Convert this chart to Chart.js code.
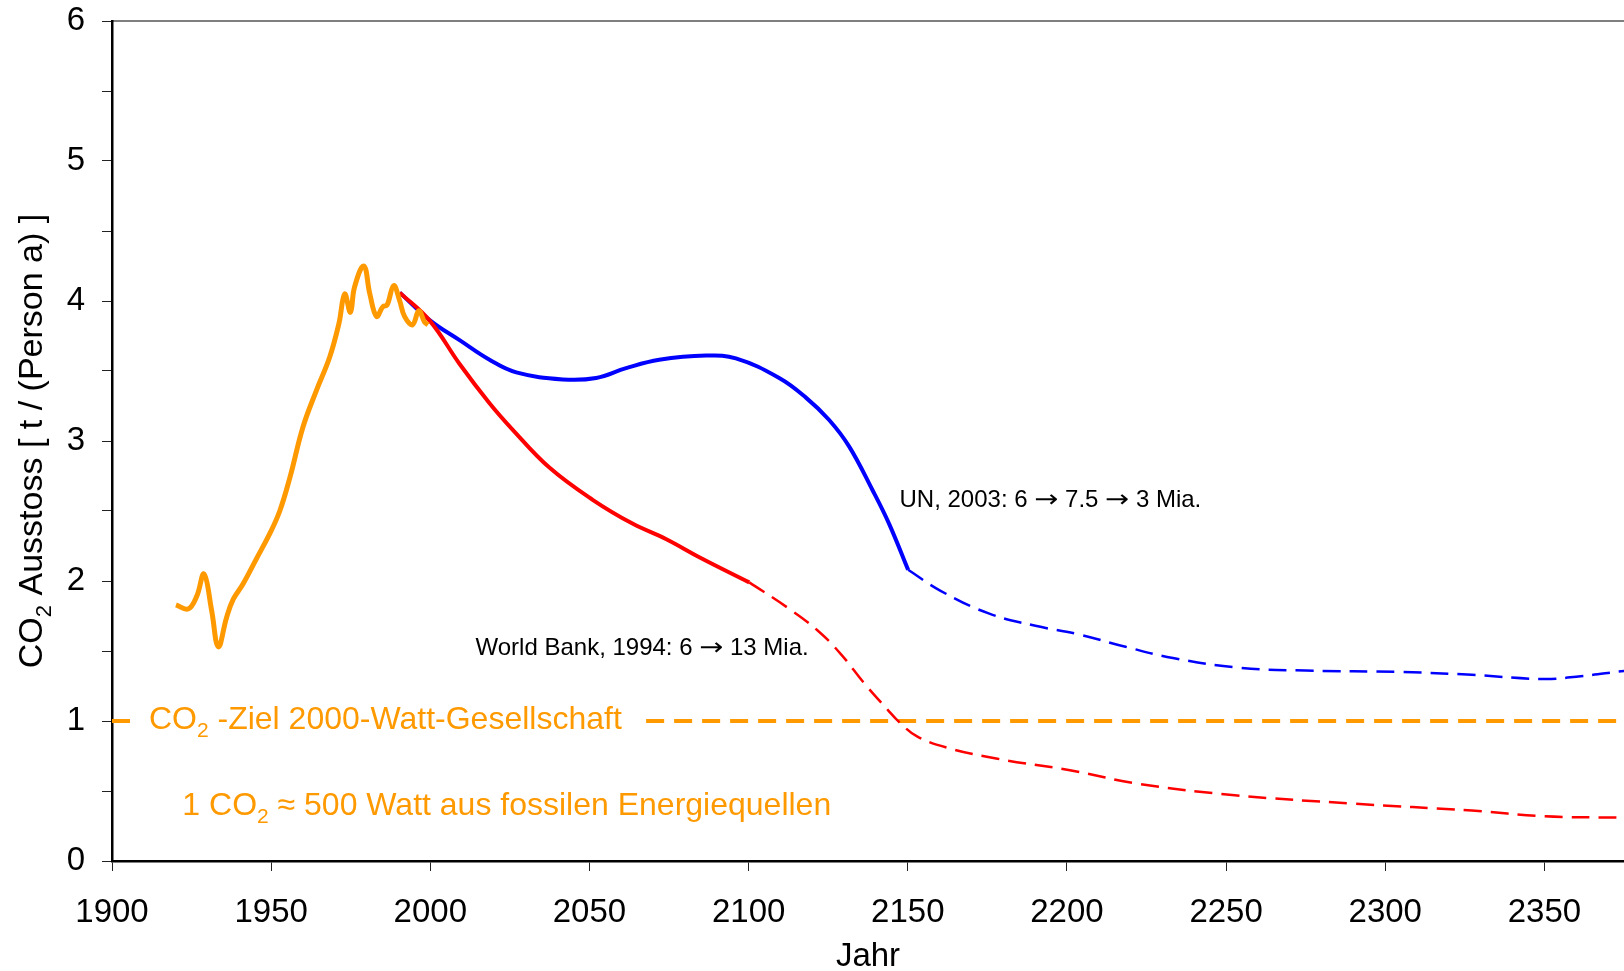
<!DOCTYPE html>
<html lang="de">
<head>
    <meta charset="UTF-8">
    <title>CO2 Ausstoss pro Person</title>
    <script src="https://cdn.jsdelivr.net/npm/chart.js"></script>
    <style>
        body { margin: 0; background: #fff; }
        #wrap { width: 1624px; height: 971px; position: relative; }
    </style>
</head>
<body>
    <div id="wrap"><canvas id="myChart"></canvas></div>

    <script>
        // historischer Verlauf (orange)
        const histYears = [1920.1, 1923.9, 1926.6, 1928.9, 1931.3, 1933.4, 1936.0, 1938.1, 1941.2, 1945.4,
            1949.6, 1952.7, 1955.9, 1960.0, 1964.2, 1968.4, 1971.3, 1973.1, 1974.9, 1976.2,
            1979.1, 1981.0, 1983.1, 1985.1, 1986.4, 1988.5, 1990.4, 1991.9, 1994.4, 1996.4, 1998.2, 1999.3];
        const histValues = [1.83, 1.80, 1.89, 2.05, 1.79, 1.53, 1.74, 1.87, 1.98, 2.16,
            2.34, 2.50, 2.74, 3.10, 3.36, 3.60, 3.84, 4.05, 3.92, 4.10,
            4.25, 4.05, 3.89, 3.96, 3.97, 4.11, 4.00, 3.89, 3.83, 3.93, 3.85, 3.83];

        // UN, 2003 (blau)
        const unYears = [1990.4, 2000, 2009.2, 2018.6, 2027, 2041.6, 2052.1, 2061.5, 2071.9, 2086.6,
            2096, 2109.6, 2118, 2125.3, 2131.6, 2138.9, 2144.1, 2150.1];
        const unValues = [4.06, 3.86, 3.72, 3.58, 3.49, 3.44, 3.45, 3.52, 3.58, 3.61,
            3.59, 3.45, 3.31, 3.15, 2.96, 2.65, 2.41, 2.08];
        const unLongYears = [2150.1, 2160.3, 2175.2, 2190.1, 2203.5, 2218.4, 2233.3, 2254.2, 2275,
            2304.8, 2327.2, 2349.5, 2361.4, 2374.1, 2380];
        const unLongValues = [2.08, 1.93, 1.77, 1.68, 1.62, 1.53, 1.45, 1.38, 1.36,
            1.35, 1.33, 1.30, 1.32, 1.355, 1.37];

        // World Bank, 1994 (rot)
        const wbYears = [1990.4, 1999.8, 2009.2, 2018.6, 2025.9, 2037.4, 2051, 2063.5, 2074, 2084.5, 2100.2];
        const wbValues = [4.06, 3.86, 3.55, 3.27, 3.08, 2.81, 2.58, 2.41, 2.30, 2.17, 1.99];
        const wbLongYears = [2100.2, 2112.2, 2121.5, 2128.9, 2136.3, 2143.7, 2147.4, 2152.9, 2162.2,
            2178.2, 2200.5, 2222.9, 2252.7, 2289.9, 2327.2, 2349.5, 2374.1, 2380];
        const wbLongValues = [1.99, 1.81, 1.65, 1.48, 1.27, 1.08, 0.99, 0.89, 0.81,
            0.73, 0.65, 0.55, 0.47, 0.41, 0.36, 0.32, 0.31, 0.31];

        // Ziel 2000-Watt-Gesellschaft (Lücke für die Beschriftung)
        const targetYears = [1900, 1905.7, 1906, 2067.8, 2380];
        const targetValues = [1, 1, null, 1, 1];

        const xTicks = [1900, 2375, 50];   // min, max, step
        const yTicks = [0, 6, 0.5];

        const FONT = '"Liberation Sans", Arial, sans-serif';
        const ARROW_FONT = '"DejaVu Sans", sans-serif';
        const ORANGE = '#FF9900';

        const toXY = (xs, ys) => xs.map((x, i) => ({ x: x, y: ys[i] }));

        // Textteile: [text, tiefgestellt, eigene Schrift, Streckung]
        const ARR = ['\u2192', false, ARROW_FONT, 1.2];
        const notes = [
            { x: 1911.6, y: 0.946, size: 32, color: ORANGE, parts: [['CO'], ['2', true], [' -Ziel 2000-Watt-Gesellschaft']] },
            { x: 1922.1, y: 0.326, size: 32, color: ORANGE, parts: [['1 CO'], ['2', true], [' \u2248 500 Watt aus fossilen Energiequellen']] },
            { x: 2147.4, y: 2.529, size: 24, color: '#000', parts: [['UN, 2003: 6 '], ARR, [' 7.5 '], ARR, [' 3 Mia.']] },
            { x: 2014.2, y: 1.469, size: 24, color: '#000', parts: [['World Bank, 1994: 6 '], ARR, [' 13 Mia.']] }
        ];
        const yTitle = [['CO'], ['2', true], [' Ausstoss [ t / (Person a) ]']];

        function partFont(p, size) {
            return (p[1] ? Math.round(size * 0.66) : size) + 'px ' + (p[2] || FONT);
        }

        function richWidth(ctx, parts, size) {
            let w = 0;
            parts.forEach(p => {
                ctx.font = partFont(p, size);
                w += ctx.measureText(p[0]).width * (p[3] || 1);
            });
            return w;
        }

        function drawRich(ctx, x, y, parts, size, color) {
            ctx.fillStyle = color;
            ctx.textBaseline = 'alphabetic';
            ctx.textAlign = 'left';
            parts.forEach(p => {
                const sx = p[3] || 1;
                ctx.font = partFont(p, size);
                ctx.save();
                ctx.translate(x, p[1] ? y + size * 0.25 : y);
                ctx.scale(sx, 1);
                ctx.fillText(p[0], 0, 0);
                ctx.restore();
                x += ctx.measureText(p[0]).width * sx;
            });
        }

        const textPlugin = {
            id: 'texte',
            beforeDatasetsDraw(chart) {
                // obere Rahmenlinie
                const { ctx, chartArea } = chart;
                ctx.save();
                ctx.strokeStyle = '#000';
                ctx.lineWidth = 1.2;
                ctx.beginPath();
                ctx.moveTo(chartArea.left, chartArea.top);
                ctx.lineTo(chartArea.right, chartArea.top);
                ctx.stroke();
                ctx.restore();
            },
            afterDatasetsDraw(chart) {
                const { ctx, scales, chartArea } = chart;
                ctx.save();
                notes.forEach(n => {
                    drawRich(ctx, scales.x.getPixelForValue(n.x), scales.y.getPixelForValue(n.y), n.parts, n.size, n.color);
                });
                // y-Achsentitel
                const size = 34;
                const w = richWidth(ctx, yTitle, size);
                ctx.translate(42, (chartArea.top + chartArea.bottom) / 2);
                ctx.rotate(-Math.PI / 2);
                drawRich(ctx, -w / 2, 0, yTitle, size, '#000');
                ctx.restore();
            }
        };

        const axisGrid = { drawOnChartArea: false, drawTicks: true, tickLength: 10, color: '#222', lineWidth: 1 };
        const axisBorder = { display: true, color: '#000', width: 2.5 };

        const ctx = document.getElementById('myChart').getContext('2d');
        const myChart = new Chart(ctx, {
            type: 'line',
            data: {
                datasets: [{
                    label: 'historisch',
                    data: toXY(histYears, histValues),
                    borderColor: ORANGE,
                    borderWidth: 5,
                    tension: 0.4
                }, {
                    label: 'World Bank, 1994',
                    data: toXY(wbYears, wbValues),
                    borderColor: '#FF0000',
                    borderWidth: 4,
                    tension: 0.4
                }, {
                    label: 'UN, 2003',
                    data: toXY(unYears, unValues),
                    borderColor: '#0000FF',
                    borderWidth: 4,
                    tension: 0.4
                }, {
                    label: 'World Bank, Fortsetzung',
                    data: toXY(wbLongYears, wbLongValues),
                    borderColor: '#FF0000',
                    borderWidth: 2.5,
                    borderDash: [18, 9],
                    tension: 0.4
                }, {
                    label: 'UN, Fortsetzung',
                    data: toXY(unLongYears, unLongValues),
                    borderColor: '#0000FF',
                    borderWidth: 2.5,
                    borderDash: [18, 9],
                    tension: 0.4
                }, {
                    label: 'Ziel',
                    data: toXY(targetYears, targetValues),
                    borderColor: ORANGE,
                    borderWidth: 4,
                    borderDash: [18, 10],
                    tension: 0
                }]
            },
            options: {
                responsive: true,
                maintainAspectRatio: false,
                animation: false,
                events: [],
                layout: { padding: { top: 21, right: 0, left: 0, bottom: 0 } },
                elements: { point: { radius: 0 } },
                plugins: { legend: { display: false }, tooltip: { enabled: false } },
                scales: {
                    x: {
                        type: 'linear',
                        min: xTicks[0],
                        max: xTicks[1],
                        border: axisBorder,
                        grid: axisGrid,
                        ticks: {
                            stepSize: xTicks[2],
                            includeBounds: false,
                            autoSkip: false,
                            maxRotation: 0,
                            padding: 22,
                            color: '#000',
                            font: { family: FONT, size: 33 },
                            callback: v => String(v)
                        },
                        title: {
                            display: true,
                            text: 'Jahr',
                            color: '#000',
                            padding: 0,
                            font: { family: FONT, size: 33, lineHeight: 0.85 }
                        },
                        afterFit: s => { s.height = 110; s.paddingLeft = 0; s.paddingRight = 0; }
                    },
                    y: {
                        type: 'linear',
                        min: yTicks[0],
                        max: yTicks[1],
                        border: axisBorder,
                        grid: axisGrid,
                        ticks: {
                            stepSize: yTicks[2],
                            autoSkip: false,
                            padding: 17,
                            color: '#000',
                            font: { family: FONT, size: 33 },
                            callback: v => Number.isInteger(v) ? String(v) : ''
                        },
                        afterFit: s => { s.width = 112; s.paddingTop = 0; s.paddingBottom = 0; }
                    }
                }
            },
            plugins: [textPlugin]
        });
    </script>
</body>
</html>
